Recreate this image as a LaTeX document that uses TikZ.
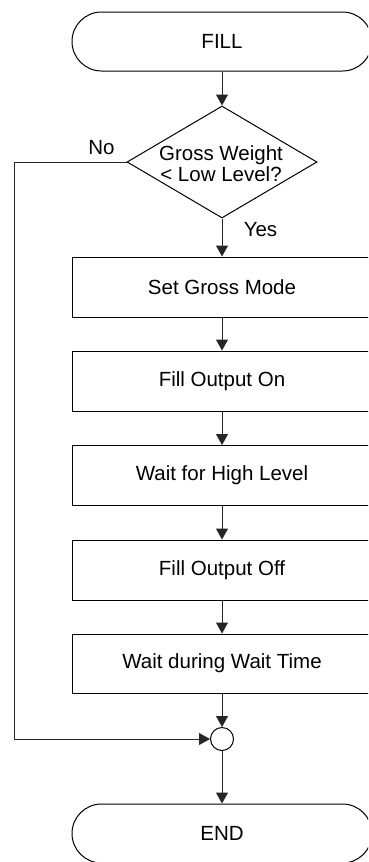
\documentclass[tikz,border=0pt]{standalone}
\usepackage{fontspec}
\setmainfont{Liberation Sans}
\usetikzlibrary{shapes.geometric,shapes.misc,arrows.meta}
\begin{document}
\begin{tikzpicture}[x=1pt,y=-1pt,
  every node/.style={font=\fontsize{20.5}{21}\selectfont},
  term/.style={draw=black,line width=1pt,rounded rectangle,minimum width=300pt,minimum height=59pt,inner sep=0pt},
  procbox/.style={draw=black,line width=1pt,rectangle,minimum width=300pt,minimum height=60pt,inner sep=0pt},
  decision/.style={draw=black,line width=1pt,diamond,minimum width=190pt,minimum height=112pt,inner sep=0pt},
  joint/.style={draw=black,line width=1pt,circle,minimum size=23pt,inner sep=0pt},
  flow/.style={draw=black!85,line width=1pt,-{Triangle[length=11pt,width=12pt]}},
]
\useasboundingbox (0,0) rectangle (368,862);
\clip (0,0) rectangle (368,862);
\node[term] (fill) at (222,41.5) {FILL};
\node[decision] (dec) at (222,162) {};
\node[align=center,inner sep=0pt] (dectext) at (221,164) {Gross Weight\\< Low Level?};
\node[inner sep=0pt] (no) at (101.5,148) {No};
\node[inner sep=0pt] (yes) at (260.5,229.5) {Yes};
\node[procbox] (b1) at (222,287) {Set Gross Mode};
\node[procbox] (b2) at (222,381) {Fill Output On};
\node[procbox] (b3) at (222,475.5) {Wait for High Level};
\node[procbox] (b4) at (222,570) {Fill Output Off};
\node[procbox,minimum height=59pt] (b5) at (222,663.5) {Wait during Wait Time};
\node[joint] (join) at (222,739) {};
\node[term] (end) at (222,833.5) {END};
\coordinate (lc) at (14,0);
\draw[flow] (fill.south) -- (dec.north);
\draw[flow] (dec.south) -- (b1.north);
\draw[flow] (b1.south) -- (b2.north);
\draw[flow] (b2.south) -- (b3.north);
\draw[flow] (b3.south) -- (b4.north);
\draw[flow] (b4.south) -- (b5.north);
\draw[flow] (b5.south) -- (join.north);
\draw[flow] (join.south) -- (end.north);
\draw[flow] (dec.west) -- (dec.west -| lc) -- (lc |- join.west) -- (join.west);
\end{tikzpicture}
\end{document}
